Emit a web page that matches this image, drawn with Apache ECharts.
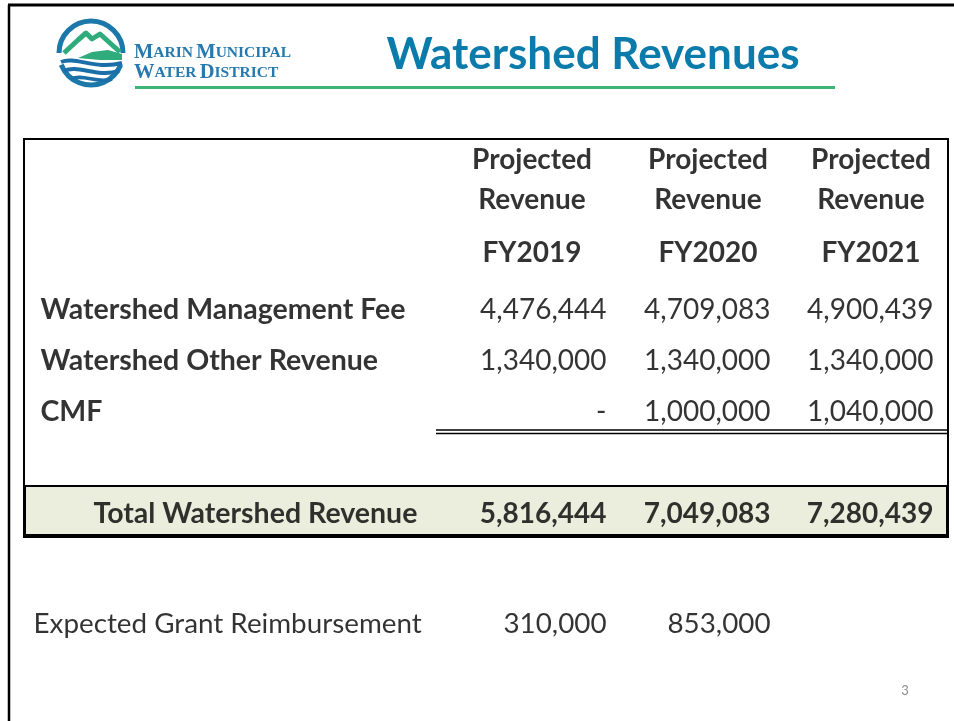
<!DOCTYPE html>
<html>
<head>
<meta charset="utf-8">
<script src="https://cdn.jsdelivr.net/npm/echarts@6/dist/echarts.min.js"></script>
<style>
  html, body { margin: 0; padding: 0; background: #fff; }
  #main { width: 954px; height: 721px; }
</style>
</head>
<body>
<div id="main"></div>
<script>
// table data
var years = ["FY2019", "FY2020", "FY2021"];
var rowNames = ["Watershed Management Fee", "Watershed Other Revenue", "CMF", " ", "Total Watershed Revenue"];
var mgmtFee = [4476444, 4709083, 4900439];
var otherRevenue = [1340000, 1340000, 1340000];
var cmf = [0, 1000000, 1040000];
var totals = [5816444, 7049083, 7280439];
var grantName = "Expected Grant Reimbursement";
var grantReimb = [310000, 853000, null];

// layout (grid units = pixels inside the table box)
var tableW = 924;
var colRight = [583, 747, 910];
var headCenter = [508, 684, 847];
var FONT = "Lato";

function fmt(v) {
  if (v === null) return "";
  if (v === 0) return "-";
  return v.toLocaleString("en-US");
}

var chart = echarts.init(document.getElementById("main"));

var series = [];

// total row shading, drawn as a full-width bar on the body grid
series.push({
  type: "bar",
  xAxisIndex: 1,
  yAxisIndex: 1,
  barWidth: "100%",
  silent: true,
  z: 1,
  data: rowNames.map(function(r, i) {
    return i === rowNames.length - 1 ? tableW : "-";
  }),
  itemStyle: { color: "#ebeedd", borderColor: "#000", borderWidth: 2 }
});

// header cells
var headData = [];
years.forEach(function(y, i) {
  headData.push({ value: [headCenter[i], "head"], label: { formatter: "Projected\nRevenue" } });
  headData.push({ value: [headCenter[i], "fy"], label: { formatter: y } });
});
series.push({
  type: "scatter",
  xAxisIndex: 0,
  yAxisIndex: 0,
  symbolSize: 1,
  itemStyle: { color: "rgba(0,0,0,0)" },
  silent: true,
  data: headData,
  label: {
    show: true,
    position: "inside",
    color: "#000",
    fontFamily: FONT,
    fontWeight: "bold",
    fontSize: 28,
    lineHeight: 40
  }
});

// row labels
series.push({
  type: "scatter",
  xAxisIndex: 1,
  yAxisIndex: 1,
  symbolSize: 1,
  itemStyle: { color: "rgba(0,0,0,0)" },
  silent: true,
  z: 5,
  data: rowNames.map(function(r, i) {
    return {
      value: [0, r],
      label: { distance: i === rowNames.length - 1 ? 69 : 16 }
    };
  }),
  label: {
    show: true,
    position: "right",
    offset: [0, 3],
    color: "#000",
    fontFamily: FONT,
    fontWeight: "bold",
    fontSize: 28.5,
    formatter: function(p) { return p.value[1]; }
  }
});

// value columns
var bodyRows = [mgmtFee, otherRevenue, cmf];
years.forEach(function(y, c) {
  var data = [];
  bodyRows.forEach(function(arr, r) {
    data.push({ value: [colRight[c], rowNames[r], fmt(arr[c])] });
  });
  data.push({
    value: [colRight[c], rowNames[4], fmt(totals[c])],
    label: { fontWeight: "bold" }
  });
  series.push({
    type: "scatter",
    name: y,
    xAxisIndex: 1,
    yAxisIndex: 1,
    symbolSize: 1,
    itemStyle: { color: "rgba(0,0,0,0)" },
    silent: true,
    z: 5,
    data: data,
    label: {
      show: true,
      position: "left",
      distance: 0,
      offset: [0, 3],
      color: "#000",
      fontFamily: FONT,
      fontSize: 28,
      formatter: function(p) { return p.value[2]; }
    }
  });
});

// grant reimbursement row
var grantData = [{ value: [0, grantName, grantName], label: { position: "right", distance: 9 } }];
grantReimb.forEach(function(v, c) {
  if (v !== null) grantData.push({ value: [colRight[c], grantName, fmt(v)] });
});
series.push({
  type: "scatter",
  xAxisIndex: 2,
  yAxisIndex: 2,
  symbolSize: 1,
  itemStyle: { color: "rgba(0,0,0,0)" },
  silent: true,
  data: grantData,
  label: {
    show: true,
    position: "left",
    distance: 0,
    color: "#000",
    fontFamily: FONT,
    fontSize: 27.8,
    formatter: function(p) { return p.value[2]; }
  }
});

function xAx(i) {
  return { type: "value", gridIndex: i, min: 0, max: tableW, show: false };
}
function yAx(i, data) {
  return { type: "category", gridIndex: i, inverse: true, data: data, show: false };
}

var option = {
  animation: false,
  backgroundColor: "#fff",
  grid: [
    { left: 24, width: tableW, top: 143.5, height: 146 },
    { left: 24, width: tableW, top: 281, height: 255 },
    { left: 24, width: tableW, top: 598, height: 52 }
  ],
  xAxis: [xAx(0), xAx(1), xAx(2)],
  yAxis: [yAx(0, ["head", "fy"]), yAx(1, rowNames), yAx(2, [grantName])],
  series: series,
  graphic: [
    // slide frame
    { type: "line", shape: { x1: 8, y1: 5, x2: 954, y2: 5 }, style: { stroke: "#000", lineWidth: 3 } },
    { type: "line", shape: { x1: 9, y1: 5, x2: 9, y2: 721 }, style: { stroke: "#000", lineWidth: 2.5 } },
    // logo
    {
      type: "group",
      children: [
        { type: "arc", shape: { cx: 91, cy: 53, r: 32, startAngle: Math.PI * 1.0, endAngle: Math.PI * 2.0 }, style: { stroke: "#1b78a8", lineWidth: 5, fill: null } },
        { type: "arc", shape: { cx: 91, cy: 53, r: 32, startAngle: Math.PI * 0.12, endAngle: Math.PI * 0.88 }, style: { stroke: "#1b78a8", lineWidth: 5, fill: null } },
        { type: "polyline", shape: { points: [[64, 53], [78, 40], [86, 33], [92, 39], [100, 34], [120, 52]] }, style: { stroke: "#2fab7c", lineWidth: 5, fill: null, lineJoin: "round" } },
        { type: "polygon", shape: { points: [[78, 58], [92, 52], [108, 50], [122, 54], [122, 60], [100, 60]] }, style: { fill: "#2fab7c" } },
        { type: "bezierCurve", shape: { x1: 61, y1: 62, cpx1: 75, cpy1: 56, cpx2: 95, cpy2: 70, x2: 122, y2: 63 }, style: { stroke: "#1b6fa8", lineWidth: 4, fill: null } },
        { type: "bezierCurve", shape: { x1: 64, y1: 71, cpx1: 78, cpy1: 64, cpx2: 96, cpy2: 78, x2: 119, y2: 71 }, style: { stroke: "#1b6fa8", lineWidth: 4, fill: null } },
        { type: "bezierCurve", shape: { x1: 71, y1: 79, cpx1: 82, cpy1: 73, cpx2: 98, cpy2: 84, x2: 112, y2: 79 }, style: { stroke: "#1b6fa8", lineWidth: 3.5, fill: null } },
        {
          type: "text", left: 134, top: 42,
          style: {
            text: "{a|M}{b|ARIN} {a|M}{b|UNICIPAL}",
            rich: {
              a: { fontFamily: "Liberation Serif", fontWeight: "bold", fontSize: 20.5, fill: "#2779ad" },
              b: { fontFamily: "Liberation Serif", fontWeight: "bold", fontSize: 15.5, fill: "#2779ad" }
            }
          }
        },
        {
          type: "text", left: 134, top: 62,
          style: {
            text: "{a|W}{b|ATER} {a|D}{b|ISTRICT}",
            rich: {
              a: { fontFamily: "Liberation Serif", fontWeight: "bold", fontSize: 20.5, fill: "#2779ad" },
              b: { fontFamily: "Liberation Serif", fontWeight: "bold", fontSize: 15.5, fill: "#2779ad" }
            }
          }
        }
      ]
    },
    // title and rule
    {
      type: "text", x: 593, y: 55,
      style: { text: "Watershed Revenues", fontFamily: FONT, fontWeight: "bold", fontSize: 44, fill: "#0b7bab", align: "center", verticalAlign: "middle" }
    },
    { type: "rect", shape: { x: 135, y: 86, width: 700, height: 3 }, style: { fill: "#3cb478" } },
    // table box and double underline
    { type: "rect", z: 10, shape: { x: 24, y: 139, width: tableW, height: 398 }, style: { fill: null, stroke: "#000", lineWidth: 2 } },
    { type: "line", z: 10, shape: { x1: 436, y1: 430, x2: 948, y2: 430 }, style: { stroke: "#000", lineWidth: 1.5 } },
    { type: "line", z: 10, shape: { x1: 436, y1: 433.5, x2: 948, y2: 433.5 }, style: { stroke: "#000", lineWidth: 1.5 } },
    // page number
    { type: "text", x: 905, y: 691, style: { text: "3", fontFamily: FONT, fontSize: 13, fill: "#8c8c8c", align: "center", verticalAlign: "middle" } }
  ]
};

chart.setOption(option);
</script>
</body>
</html>
